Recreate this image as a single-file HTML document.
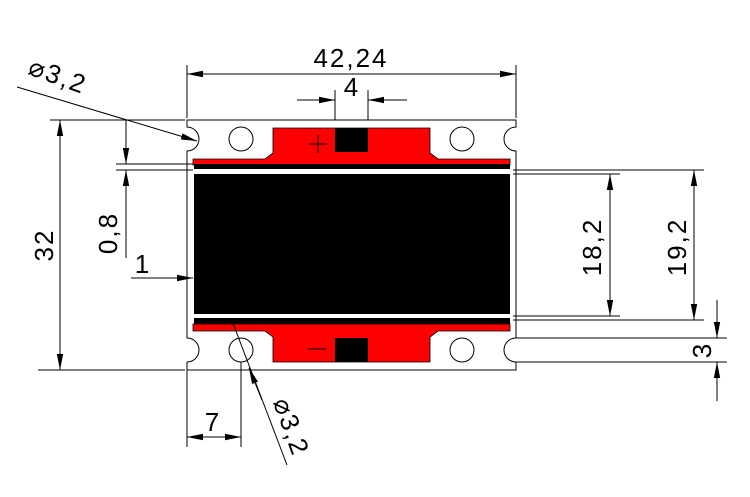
<!DOCTYPE html>
<html><head><style>html,body{margin:0;padding:0;background:#fff}svg{display:block}</style></head><body>
<svg width="750" height="497" viewBox="0 0 750 497" xmlns="http://www.w3.org/2000/svg" font-family="Liberation Sans, sans-serif">
<defs>
<marker id="a" viewBox="0 0 10 4" refX="10" refY="2" markerWidth="10" markerHeight="4" markerUnits="userSpaceOnUse" orient="auto-start-reverse" overflow="visible"><path d="M0,0 L10,2 L0,4Z" fill="#000" transform="scale(1.6)" transform-origin="10 2"/></marker>
</defs>
<g stroke="#000" stroke-width="1" fill="none">
<path d="M187,120 H516 V127 A12,12 0 0 0 516,151 V338 A12,12 0 0 0 516,362 V370 H187 V362 A12,12 0 0 0 187,338 V151 A12,12 0 0 0 187,127 Z"/>
<circle cx="241" cy="139" r="12"/><circle cx="462" cy="139" r="12"/>
<circle cx="241" cy="350" r="12"/><circle cx="462" cy="350" r="12"/>
</g>
<path d="M273,128 H430 V153 L438,159 H510 V165 H193 V159 H265 L273,153Z" fill="#f00" stroke="#000" stroke-width="0.8"/>
<path d="M193,324 H510 V331 H438 L430,337 V362 H273 V337 L265,331 H193Z" fill="#f00" stroke="#000" stroke-width="0.8"/>
<rect x="335" y="128" width="33" height="24" fill="#000"/>
<rect x="335" y="338" width="33" height="24" fill="#000"/>
<rect x="194" y="164" width="316" height="5" fill="#000"/>
<rect x="194" y="174" width="316" height="140" fill="#000"/>
<rect x="194" y="318" width="316" height="6" fill="#000"/>
<g stroke="#000" stroke-width="1">
<line x1="309" y1="144" x2="327" y2="144"/><line x1="318" y1="135" x2="318" y2="153"/>
<line x1="308" y1="349" x2="326" y2="349"/>
</g>
<g stroke="#000" stroke-width="1" fill="none">
<line x1="187" y1="65" x2="187" y2="118"/><line x1="516" y1="65" x2="516" y2="118"/>
<line x1="187" y1="74" x2="516" y2="74" marker-start="url(#a)" marker-end="url(#a)"/>
<line x1="335" y1="90" x2="335" y2="120"/><line x1="368" y1="90" x2="368" y2="120"/>
<line x1="297" y1="100" x2="335" y2="100" marker-end="url(#a)"/>
<line x1="407" y1="100" x2="368" y2="100" marker-end="url(#a)"/>
<line x1="50" y1="120" x2="185" y2="120"/><line x1="38" y1="370" x2="185" y2="370"/>
<line x1="60" y1="120" x2="60" y2="370" marker-start="url(#a)" marker-end="url(#a)"/>
<line x1="116" y1="164" x2="193" y2="164"/><line x1="116" y1="170" x2="193" y2="170"/>
<line x1="126" y1="120" x2="126" y2="164" marker-end="url(#a)"/>
<line x1="126" y1="258" x2="126" y2="170" marker-end="url(#a)"/>
<line x1="131" y1="278" x2="193" y2="278" marker-end="url(#a)"/>
<line x1="17" y1="87" x2="197" y2="141" marker-end="url(#a)"/>
<line x1="513" y1="170" x2="704" y2="170"/><line x1="513" y1="174" x2="620" y2="174"/>
<line x1="513" y1="316" x2="620" y2="316"/><line x1="513" y1="320" x2="704" y2="320"/>
<line x1="610" y1="174" x2="610" y2="316" marker-start="url(#a)" marker-end="url(#a)"/>
<line x1="694" y1="170" x2="694" y2="320" marker-start="url(#a)" marker-end="url(#a)"/>
<line x1="516" y1="338" x2="727" y2="338"/><line x1="516" y1="362" x2="727" y2="362"/>
<line x1="717" y1="300" x2="717" y2="338" marker-end="url(#a)"/>
<line x1="717" y1="401" x2="717" y2="362" marker-end="url(#a)"/>
<line x1="187" y1="370" x2="187" y2="447"/><line x1="241" y1="362" x2="241" y2="447"/>
<line x1="187" y1="437" x2="241" y2="437" marker-start="url(#a)" marker-end="url(#a)"/>
<line x1="287" y1="465" x2="231" y2="318"/>
<line x1="262" y1="400" x2="249" y2="368" marker-end="url(#a)"/>
</g>
<g fill="#000" font-size="26" letter-spacing="2">
<text x="351" y="67" text-anchor="middle">42,24</text>
<text x="352" y="96" text-anchor="middle">4</text>
<text x="213" y="431" text-anchor="middle">7</text>
<text x="143" y="273" text-anchor="middle">1</text>
<text transform="translate(53,245) rotate(-90)" text-anchor="middle">32</text>
<text transform="translate(117,233) rotate(-90)" text-anchor="middle">0,8</text>
<text transform="translate(601,247) rotate(-90)" text-anchor="middle">18,2</text>
<text transform="translate(686,247) rotate(-90)" text-anchor="middle">19,2</text>
<text transform="translate(711,350) rotate(-90)" text-anchor="middle">3</text>
<text transform="translate(55,84) rotate(20)" text-anchor="middle">⌀3,2</text>
<text transform="translate(283,430) rotate(70)" text-anchor="middle">⌀3,2</text>
</g>
</svg>
</body></html>
